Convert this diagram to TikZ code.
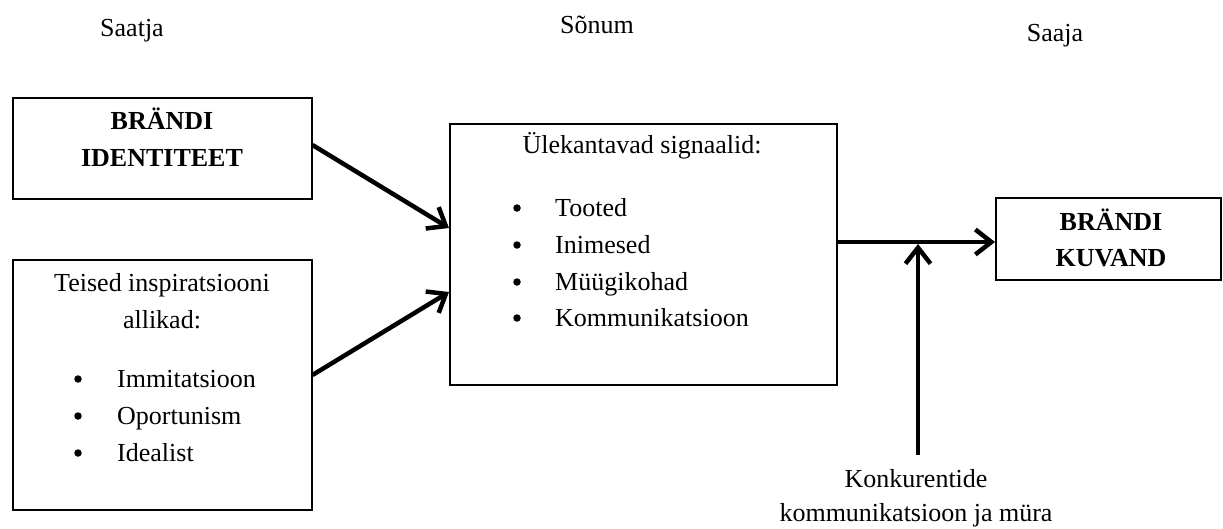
\documentclass[tikz,border=0pt]{standalone}
\usepackage{fontspec}
\setmainfont{Liberation Serif}
\usetikzlibrary{arrows.meta,calc}
\begin{document}
\begin{tikzpicture}[x=1pt,y=-1pt,
  box/.style={draw, line width=1.5pt, anchor=north west, inner sep=0pt},
  txt/.style={anchor=base, inner sep=0pt, font=\fontsize{26}{37}\selectfont},
  heavy/.style={txt, font=\fontsize{26}{37}\selectfont\bfseries},
  item/.style={txt, anchor=base west},
  dot/.style={circle, fill, inner sep=0pt, minimum size=7.5pt},
  flow/.style={line width=4.5pt, -{Straight Barb[length=16pt,width=25pt]}}]
\useasboundingbox (0,0) rectangle (1223,528);

% column headings
\node[txt] (sender)   at (132,36) {Saatja};
\node[txt] (message)  at (597,33) {Sõnum};
\node[txt] (receiver) at (1055,41) {Saaja};

% boxes
\node[box, minimum width=299pt, minimum height=101pt] (ident) at (12,97) {};
\node[box, minimum width=299pt, minimum height=250pt] (other) at (12,259) {};
\node[box, minimum width=387pt, minimum height=261pt] (signals) at (449,123) {};
\node[box, minimum width=225pt, minimum height=82pt] (image) at (995,197) {};

% brand identity
\node[heavy] (identA) at (162,129) {BRÄNDI};
\node[heavy] (identB) at (162,166) {IDENTITEET};

% other sources of inspiration
\node[txt] (otherA) at (162,291) {Teised inspiratsiooni};
\node[txt] (otherB) at (162,328) {allikad:};
\node[dot] (ob1) at (78,379) {};
\node[item] (oi1) at (117,387) {Immitatsioon};
\node[dot] (ob2) at (78,416) {};
\node[item] (oi2) at (117,424) {Oportunism};
\node[dot] (ob3) at (78,453) {};
\node[item] (oi3) at (117,461) {Idealist};

% transmitted signals
\node[txt] (sigA) at (642,153) {Ülekantavad signaalid:};
\node[dot] (sb1) at (517,208) {};
\node[item] (si1) at (555,216) {Tooted};
\node[dot] (sb2) at (517,245) {};
\node[item] (si2) at (555,253) {Inimesed};
\node[dot] (sb3) at (517,282) {};
\node[item] (si3) at (555,290) {Müügikohad};
\node[dot] (sb4) at (517,318) {};
\node[item] (si4) at (555,326) {Kommunikatsioon};

% brand image
\node[heavy] (imageA) at (1111,230) {BRÄNDI};
\node[heavy] (imageB) at (1111,266) {KUVAND};

% competitors and noise
\node[txt] (noiseA) at (916,487) {Konkurentide};
\node[txt] (noiseB) at (916,521) {kommunikatsioon ja müra};

% connectors
\coordinate (sigIn1) at ($(signals.north west)+(0,105)$);
\coordinate (sigIn2) at ($(signals.north west)+(0,169)$);
\coordinate (otherOut) at ($(other.north east)+(0,116)$);
\coordinate (identOut) at ($(ident.north east)+(0,48)$);
\coordinate (imgIn) at ($(image.north west)+(0,45)$);
\coordinate (sigOut) at (signals.east |- imgIn);
\coordinate (noiseFoot) at (918,455);
\coordinate (noiseJoin) at (918,244);

\draw[flow] (identOut) -- (sigIn1);
\draw[flow] (otherOut) -- (sigIn2);
\draw[flow] (sigOut) -- (imgIn);
\draw[flow] (noiseFoot) -- (noiseJoin);
\end{tikzpicture}
\end{document}
